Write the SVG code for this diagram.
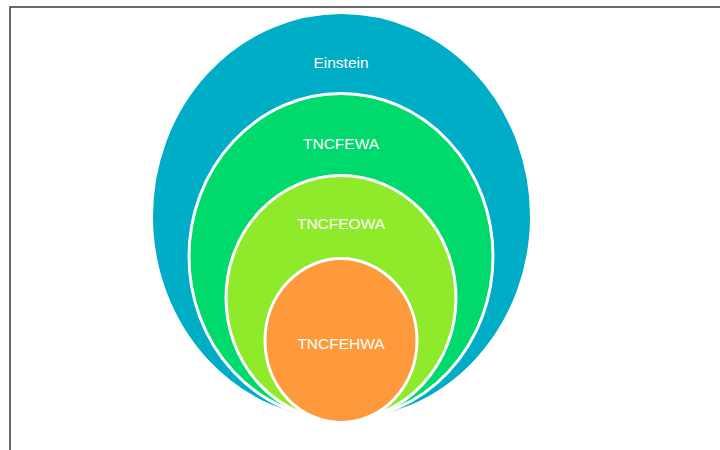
<svg xmlns="http://www.w3.org/2000/svg" width="720" height="450" viewBox="0 0 720 450">
<style>
.ring{stroke:#ffffff;stroke-width:3}
.lbl{font-family:"Liberation Sans",Arial,sans-serif;font-size:15.5px;fill:#ffffff;text-anchor:middle}
</style>
<rect x="0" y="0" width="720" height="450" fill="#ffffff"/>
<path d="M10,450 V7 H720" fill="none" stroke="#3a3a3a" stroke-width="1.5"/>
<g id="einstein">
<ellipse class="ring" cx="341.5" cy="216.5" rx="190" ry="204" fill="#00ADC7" stroke="none"/>
<text class="lbl" x="341" y="68">Einstein</text>
</g>
<g id="tncfewa">
<ellipse class="ring" cx="341" cy="256.5" rx="152" ry="163" fill="#00D96B"/>
<text class="lbl" x="341" y="149">TNCFEWA</text>
</g>
<g id="tncfeowa">
<ellipse class="ring" cx="341" cy="298" rx="115" ry="122.5" fill="#8FEA2B"/>
<text class="lbl" x="341" y="229">TNCFEOWA</text>
</g>
<g id="tncfehwa">
<ellipse class="ring" cx="341" cy="340.5" rx="76" ry="82" fill="#FF9A3C"/>
<text class="lbl" x="341" y="349">TNCFEHWA</text>
</g>
<g id="connectors"></g>
</svg>
